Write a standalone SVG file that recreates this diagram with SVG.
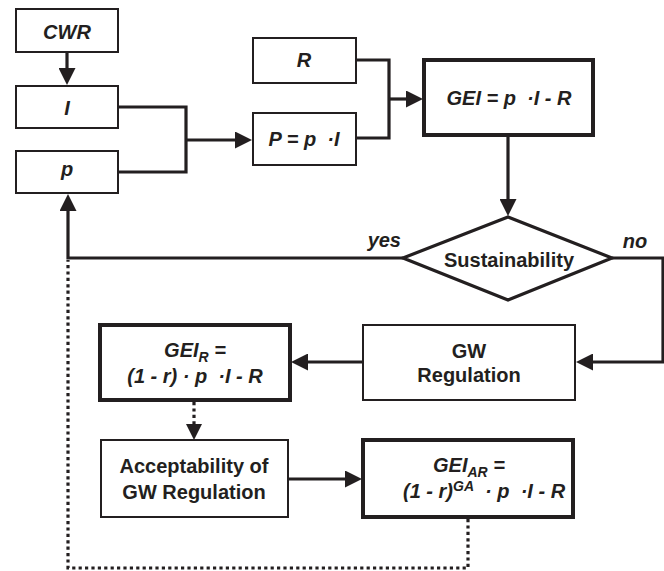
<svg xmlns="http://www.w3.org/2000/svg" width="664" height="571" viewBox="0 0 664 571">
<style>
  .box{fill:#fff;stroke:#231f20;stroke-width:2}
  .thick{fill:#fff;stroke:#231f20;stroke-width:4}
  .ln{fill:none;stroke:#231f20;stroke-width:3.2}
  .dot{fill:none;stroke:#231f20;stroke-width:3.2;stroke-dasharray:3.2 3.2}
  text{font-family:"Liberation Sans",Arial,sans-serif;font-size:20px;font-weight:bold;fill:#231f20;text-anchor:middle;white-space:pre}
  .it{font-style:italic}
  .sub{font-size:14px}
</style>
<defs>
  <marker id="ah" markerUnits="userSpaceOnUse" viewBox="0 0 17 17" refX="9" refY="8.5" markerWidth="17" markerHeight="17" orient="auto">
    <path d="M0,0 L17,8.5 L0,17 z" fill="#231f20"/>
  </marker>
</defs>
<g id="connectors">
  <path class="ln" d="M67,52 V77" marker-end="url(#ah)"/>
  <path class="ln" d="M118,107 H186 V172 H118"/>
  <path class="ln" d="M186,140 H244" marker-end="url(#ah)"/>
  <path class="ln" d="M356,60 H389 V138 H356"/>
  <path class="ln" d="M389,99 H415" marker-end="url(#ah)"/>
  <path class="ln" d="M508,135 V208" marker-end="url(#ah)"/>
  <path class="ln" d="M403,258 H68 V202" marker-end="url(#ah)"/>
  <path class="ln" d="M612,258 H663 V362 H584" marker-end="url(#ah)"/>
  <path class="ln" d="M363,362 H299" marker-end="url(#ah)"/>
  <path class="dot" d="M194,402 V430"/>
  <path d="M186,424 L194,440 L202,424 z" fill="#231f20"/>
  <path class="ln" d="M288,479 H354" marker-end="url(#ah)"/>
  <path class="dot" d="M468,519 V568 H68 V260"/>
</g>
<g id="cwr"><rect class="box" x="16" y="9" width="102" height="43"/><text class="it" x="67" y="39">CWR</text></g>
<g id="i"><rect class="box" x="16" y="86" width="102" height="42"/><text class="it" x="67" y="115">I</text></g>
<g id="p"><rect class="box" x="16" y="151" width="102" height="42"/><text class="it" x="67" y="176">p</text></g>
<g id="r"><rect class="box" x="253" y="38" width="103" height="45"/><text class="it" x="304" y="67">R</text></g>
<g id="pp"><rect class="box" x="253" y="113" width="103" height="52"/><text class="it" x="304" y="146">P = p  ·I</text></g>
<g id="gei"><rect class="thick" x="424" y="60" width="169" height="75"/><text class="it" x="509" y="105">GEI = p  ·I - R</text></g>
<g id="sustainability"><polygon points="403,258 508,217 612,258 508,300" fill="#fff" stroke="#231f20" stroke-width="3.2" stroke-linejoin="miter"/><text x="509" y="267">Sustainability</text></g>
<g id="labels"><text class="it" x="401" y="247" style="text-anchor:end">yes</text><text class="it" x="635" y="248">no</text></g>
<g id="gwreg"><rect class="box" x="363" y="325" width="212" height="75"/><text x="469" y="358">GW</text><text x="469" y="382">Regulation</text></g>
<g id="geir"><rect class="thick" x="100" y="325" width="190" height="75"/><text class="it" x="195" y="357">GEI<tspan class="sub" dy="5">R</tspan><tspan dy="-5"> =</tspan></text><text class="it" x="195" y="383">(1 - r) · p  ·I - R</text></g>
<g id="accept"><rect class="box" x="101" y="440" width="187" height="77"/><text x="194" y="473">Acceptability of</text><text x="194" y="499">GW Regulation</text></g>
<g id="geiar"><rect class="thick" x="363" y="440" width="210" height="77"/><text class="it" x="469" y="472">GEI<tspan class="sub" dy="5">AR</tspan><tspan dy="-5"> =</tspan></text><text class="it" x="403" y="498" style="text-anchor:start">(1 - r)<tspan class="sub" dy="-7">GA</tspan><tspan dy="7">  · p  ·I - R</tspan></text></g>
</svg>
